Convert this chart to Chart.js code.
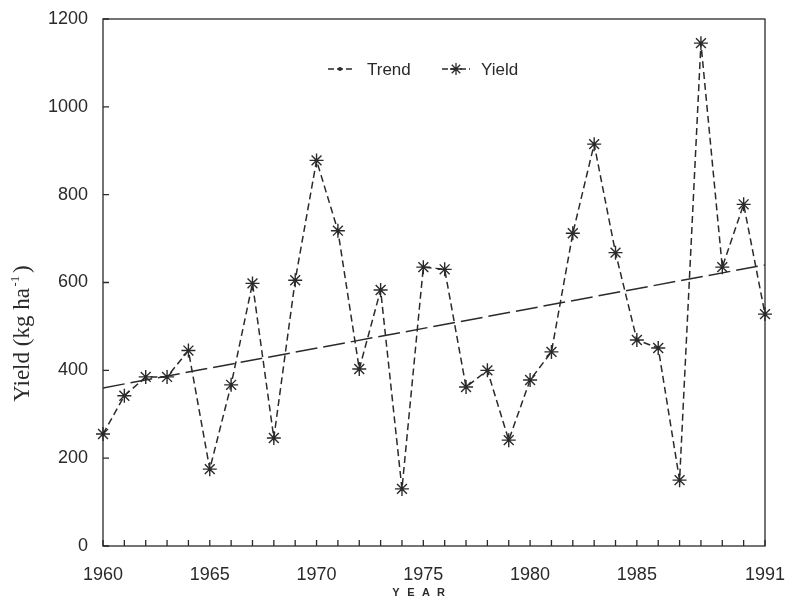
<!DOCTYPE html>
<html>
<head>
<meta charset="utf-8">
<script src="https://cdn.jsdelivr.net/npm/chart.js@4.4.1/dist/chart.umd.min.js"></script>
<style>
    html, body { margin: 0; padding: 0; background: #fff; }
    #wrap { width: 785px; height: 604px; }
</style>
</head>
<body>
<div id="wrap"><canvas id="yieldChart" width="785" height="604"></canvas></div>
<script>
// values
const years = [1960, 1961, 1962, 1963, 1964, 1965, 1966, 1967, 1968, 1969, 1970,
    1971, 1972, 1973, 1974, 1975, 1976, 1977, 1978, 1979, 1980, 1981, 1982,
    1983, 1984, 1985, 1986, 1987, 1988, 1989, 1990, 1991];
const yieldValues = [255, 342, 385, 385, 445, 175, 367, 598, 246, 605, 878,
    718, 403, 583, 130, 635, 630, 362, 400, 241, 378, 442, 712,
    915, 668, 469, 451, 150, 1145, 635, 778, 528];
const trendYears = [1960, 1991];
const trendValues = [360, 640];
const xTickLabels = [1960, 1965, 1970, 1975, 1980, 1985, 1991];
const yTickLabels = [0, 200, 400, 600, 800, 1000, 1200];

const ink = '#2a2a2a';

// inward ticks, frame, axis titles and the legend
const innerTicks = {
    id: 'innerTicks',
    afterDraw(chart) {
        const { ctx, chartArea: a, scales: { x, y } } = chart;
        ctx.save();
        ctx.strokeStyle = ink;
        ctx.lineWidth = 1.3;
        ctx.strokeRect(a.left, a.top, a.right - a.left, a.bottom - a.top);
        ctx.beginPath();
        years.forEach(yr => {
            const px = x.getPixelForValue(yr);
            ctx.moveTo(px, a.bottom);
            ctx.lineTo(px, a.bottom - 6);
        });
        yTickLabels.forEach(v => {
            const py = y.getPixelForValue(v);
            ctx.moveTo(a.left, py);
            ctx.lineTo(a.left + 6, py);
        });
        ctx.stroke();

        ctx.fillStyle = ink;
        ctx.save();
        ctx.translate(23, 337);
        ctx.rotate(-Math.PI / 2);
        ctx.font = '23px "Liberation Serif", serif';
        ctx.textAlign = 'center';
        ctx.textBaseline = 'middle';
        ctx.fillText('Yield (kg ha', -8, 0);
        const w = ctx.measureText('Yield (kg ha').width;
        ctx.font = '13px "Liberation Serif", serif';
        ctx.fillText('-1', -8 + w / 2 + 7, -7);
        ctx.font = '23px "Liberation Serif", serif';
        ctx.fillText(')', -8 + w / 2 + 19, 0);
        ctx.restore();

        ctx.font = 'bold 11px "Liberation Sans", sans-serif';
        ctx.textAlign = 'center';
        ctx.textBaseline = 'middle';
        ['Y', 'E', 'A', 'R'].forEach((c, i) => ctx.fillText(c, 396 + i * 15, 593));

        const ly = a.top + 50;
        ctx.lineWidth = 1.3;
        ctx.setLineDash([6, 3]);
        ctx.beginPath();
        ctx.moveTo(328, ly); ctx.lineTo(352, ly);
        ctx.moveTo(442, ly); ctx.lineTo(470, ly);
        ctx.stroke();
        ctx.setLineDash([]);
        ctx.beginPath();
        ctx.arc(340, ly, 2, 0, Math.PI * 2);
        ctx.fill();
        Chart.helpers.drawPoint(ctx, { pointStyle: 'star', radius: 6, rotation: 0, borderWidth: 1.3 }, 456, ly);
        ctx.font = '17px "Liberation Sans", sans-serif';
        ctx.textAlign = 'left';
        ctx.fillText('Trend', 367, ly + 1);
        ctx.fillText('Yield', 481, ly + 1);
        ctx.restore();
    }
};

new Chart(document.getElementById('yieldChart'), {
    type: 'line',
    data: {
        datasets: [{
            label: 'Trend',
            data: trendYears.map((yr, i) => ({ x: yr, y: trendValues[i] })),
            borderColor: ink,
            borderWidth: 1.5,
            borderDash: [22, 6],
            pointRadius: 0,
            fill: false
        }, {
            label: 'Yield',
            data: years.map((yr, i) => ({ x: yr, y: yieldValues[i] })),
            borderColor: ink,
            borderWidth: 1.5,
            borderDash: [7, 4],
            pointStyle: 'star',
            pointRadius: 7,
            pointBorderWidth: 1.4,
            pointBorderColor: ink,
            pointBackgroundColor: ink,
            tension: 0,
            clip: false,
            fill: false
        }]
    },
    options: {
        responsive: false,
        animation: false,
        layout: { padding: { left: 0, right: 0, top: 19, bottom: 0 } },
        plugins: {
            legend: { display: false },
            tooltip: { enabled: false }
        },
        scales: {
            x: {
                type: 'linear',
                min: 1960,
                max: 1991,
                afterBuildTicks: (scale) => {
                    scale.ticks = xTickLabels.map(v => ({ value: v }));
                },
                afterFit: (scale) => {
                    scale.paddingRight = 20;
                    scale.paddingLeft = 0;
                    scale.height = 58;
                },
                ticks: {
                    color: ink,
                    font: { family: '"Liberation Sans", sans-serif', size: 18 },
                    padding: 10,
                    maxRotation: 0,
                    autoSkip: false,
                    callback: (v) => String(v)
                },
                grid: { display: false },
                border: { display: false }
            },
            y: {
                min: 0,
                max: 1200,
                afterBuildTicks: (scale) => {
                    scale.ticks = yTickLabels.map(v => ({ value: v }));
                },
                afterFit: (scale) => { scale.width = 103; scale.paddingTop = 0; },
                ticks: {
                    color: ink,
                    font: { family: '"Liberation Sans", sans-serif', size: 18 },
                    padding: 7,
                    callback: (v) => String(v)
                },
                grid: { display: false },
                border: { display: false }
            }
        }
    },
    plugins: [innerTicks]
});
</script>
</body>
</html>
